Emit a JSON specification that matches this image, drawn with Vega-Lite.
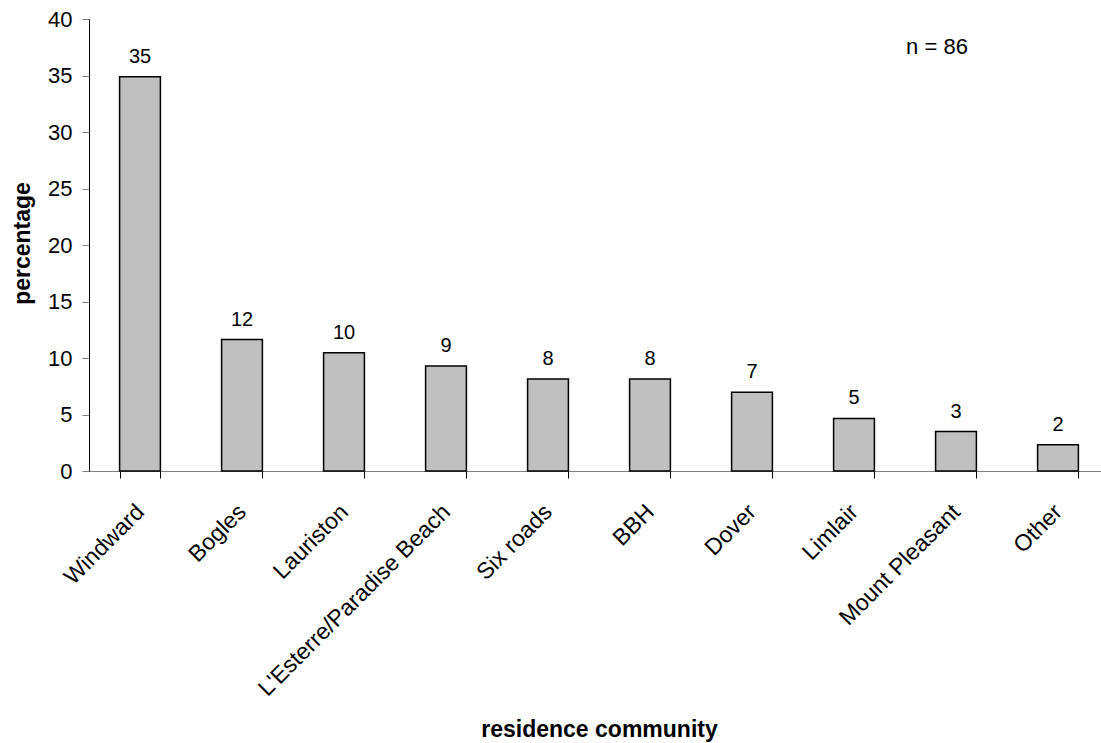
{
  "$schema": "https://vega.github.io/schema/vega-lite/v6.json",
  "autosize": "none",
  "padding": {"left": 89, "top": 19, "right": 0, "bottom": 272},
  "width": 1020,
  "height": 452,
  "background": "white",
  "config": {
    "font": "Liberation Sans",
    "view": {"stroke": null},
    "axis": {"grid": false}
  },
  "data": {
    "values": [
      {"community": "Windward", "percentage": 34.88},
      {"community": "Bogles", "percentage": 11.63},
      {"community": "Lauriston", "percentage": 10.47},
      {"community": "L'Esterre/Paradise Beach", "percentage": 9.30},
      {"community": "Six roads", "percentage": 8.14},
      {"community": "BBH", "percentage": 8.14},
      {"community": "Dover", "percentage": 6.98},
      {"community": "Limlair", "percentage": 4.65},
      {"community": "Mount Pleasant", "percentage": 3.49},
      {"community": "Other", "percentage": 2.33}
    ]
  },
  "encoding": {
    "x": {
      "field": "community",
      "type": "nominal",
      "sort": null,
      "scale": {"paddingInner": 0.6, "paddingOuter": 0.3},
      "axis": {
        "title": "residence community",
        "titleFontSize": 23,
        "titleFontWeight": "bold",
        "titleColor": "black",
        "titleY": 265,
        "titleBaseline": "alphabetic",
        "titleAlign": "center",
        "labelAngle": -45,
        "labelAlign": "right",
        "labelBaseline": "middle",
        "labelFontSize": 23,
        "labelColor": "black",
        "labelPadding": 30,
        "labelDx": -5,
        "labelOverlap": false,
        "labelLimit": 500,
        "tickBand": "extent",
        "tickSize": 7,
        "tickColor": "black",
        "domainColor": "#808080",
        "domainWidth": 1
      }
    },
    "y": {
      "field": "percentage",
      "type": "quantitative",
      "scale": {"domain": [0, 40], "nice": false},
      "axis": {
        "title": "percentage",
        "titleFontSize": 23,
        "titleFontWeight": "bold",
        "titleColor": "black",
        "titleX": -60,
        "titleY": 224,
        "titleAngle": -90,
        "titleAlign": "center",
        "titleBaseline": "alphabetic",
        "values": [0, 5, 10, 15, 20, 25, 30, 35, 40],
        "labelFontSize": 22,
        "labelColor": "black",
        "labelPadding": 10,
        "tickSize": 7,
        "tickColor": "#808080",
        "domainColor": "black",
        "domainWidth": 1
      }
    }
  },
  "layer": [
    {
      "mark": {"type": "bar", "color": "#C0C0C0", "stroke": "black", "strokeWidth": 1.5}
    },
    {
      "mark": {"type": "text", "baseline": "alphabetic", "dy": -14, "fontSize": 20, "color": "black"},
      "encoding": {
        "text": {"field": "percentage", "type": "quantitative", "format": ".0f"}
      }
    },
    {
      "data": {"values": [{"note": "n = 86", "pos": "Mount Pleasant", "level": 37.5}]},
      "mark": {"type": "text", "fontSize": 22, "baseline": "middle", "align": "center", "color": "black", "xOffset": -19},
      "encoding": {
        "x": {"field": "pos", "type": "nominal"},
        "y": {"field": "level", "type": "quantitative"},
        "text": {"field": "note"}
      }
    }
  ]
}
